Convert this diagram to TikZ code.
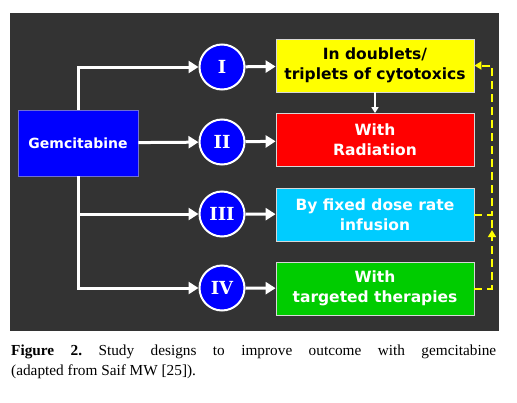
\documentclass[tikz,border=0pt]{standalone}
\usepackage{fontspec}
\setmainfont{Liberation Serif}
\newfontfamily\diagfont{DejaVu Sans}
\newfontfamily\numfont{DejaVu Serif}
\usepackage{tikz}
\usetikzlibrary{arrows.meta, decorations.markings}
\definecolor{figGround}{RGB}{51,51,51}
\definecolor{figBlue}{RGB}{0,0,255}
\definecolor{figBlueEdge}{RGB}{110,110,210}
\definecolor{figEdge}{RGB}{215,215,215}
\definecolor{figYellow}{RGB}{255,255,0}
\definecolor{figRed}{RGB}{255,0,0}
\definecolor{figCyan}{RGB}{0,204,255}
\definecolor{figGreen}{RGB}{0,204,0}
\tikzset{
  % the four coloured design boxes; the fill is given per box
  design/.style={
    draw=figEdge, line width=0.8pt, minimum width=198pt, minimum height=53pt,
    align=center, inner sep=2pt, text=white,
    font=\diagfont\fontsize{15.5}{20}\selectfont\bfseries
  },
  % roman numbered discs
  numeral/.style={
    circle, fill=figBlue, draw=white, line width=2pt, minimum size=45pt,
    inner sep=0pt, text=white, font=\numfont\fontsize{18}{18}\selectfont\bfseries
  },
  % arrows
  flow/.style={-{Triangle[length=10pt,width=12pt]}, draw=white, line width=3pt},
  thinflow/.style={-{Triangle[length=6pt,width=7pt]}, draw=white, line width=1.5pt},
  dashline/.style={draw=figYellow, line width=2pt, dash pattern=on 8pt off 5pt},
  dashflow/.style={dashline, -{Triangle[length=7pt,width=8pt]}},
  midtip/.style={postaction={decorate, decoration={markings,
      mark=at position 0.83 with {\arrow{Triangle[length=7pt,width=8pt]}}}}},
  caption/.style={text width=485pt, align=justify, inner sep=0pt,
    font=\fontsize{15.3}{20}\selectfont\frenchspacing},
}
\begin{document}
\begin{tikzpicture}[x=1pt, y=-1pt]
\useasboundingbox (0,0) rectangle (517,402);

% ===========================================================================
% DARK PANEL
% ===========================================================================
\fill[figGround] (10,13) rectangle (499,331);

% ===========================================================================
% LEFT: the drug box
% ===========================================================================
\node[draw=figBlueEdge, fill=figBlue, line width=0.8pt, minimum width=120pt, minimum height=66pt,
      text=white, font=\diagfont\fontsize{14}{16}\selectfont\bfseries] (gem) at (78,143)
      {Gemcitabine};

% ===========================================================================
% MIDDLE: numbered discs
% ===========================================================================
\node[numeral] (c1) at (222,67)  {I};
\node[numeral] (c2) at (222,142) {II};
\node[numeral] (c3) at (222,214) {III};
\node[numeral] (c4) at (222,288) {IV};

\draw[flow] (gem) |- (c1);
\draw[flow] (gem) -- (c2);
\draw[flow] (gem) |- (c3);
\draw[flow] (gem) |- (c4);

% ===========================================================================
% RIGHT: the study designs
% ===========================================================================
\node[design, fill=figYellow, text=black] (b1) at (375,65.5)
      {In doublets/\\triplets of cytotoxics};
\node[design, fill=figRed]   (b2) at (375,140)   {With\\Radiation};
\node[design, fill=figCyan]  (b3) at (375,214.5) {By fixed dose rate\\infusion};
\node[design, fill=figGreen] (b4) at (375,288.5) {With\\targeted therapies};

\draw[flow] (c1) -- (b1);
\draw[flow] (c2) -- (b2);
\draw[flow] (c3) -- (b3);
\draw[flow] (c4) -- (b4);

\draw[thinflow] (b1) -- (b2);

% --- dashed yellow return rail ---
\coordinate (rail) at (492,0);
\draw[dashline, midtip] (b4.east) -- (b4.east -| rail) -- (b3.east -| rail);
\draw[dashflow] (b3.east) -- (b3.east -| rail) |- (b1.east);

% ===========================================================================
% CAPTION
% ===========================================================================
\node[caption, anchor=north west] (cap) at (11,345)
      {\textbf{Figure 2.} Study designs to improve outcome with gemcitabine\linebreak
       (adapted from Saif MW [25]).};

\end{tikzpicture}
\end{document}
